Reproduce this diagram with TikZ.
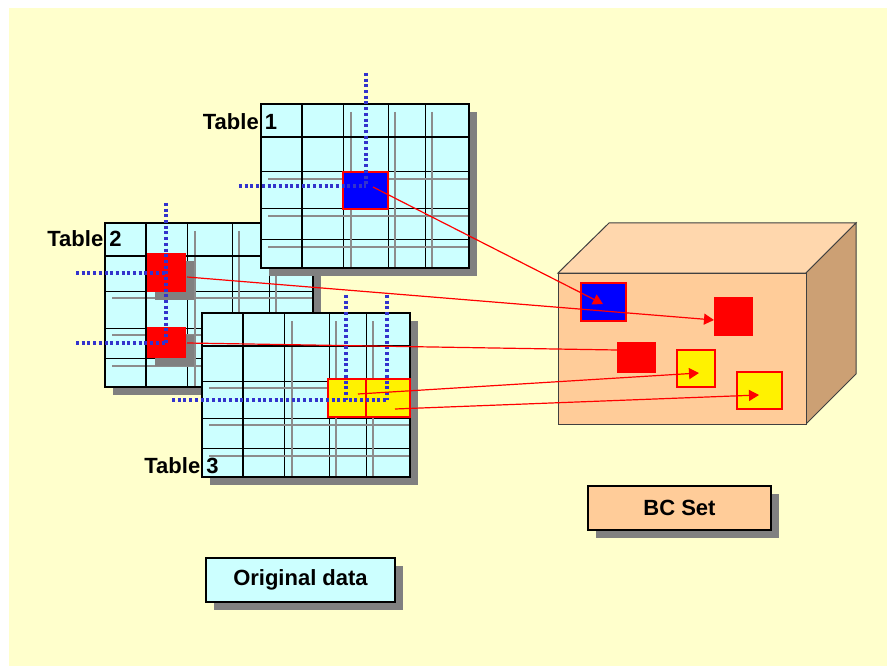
\documentclass[tikz,border=0pt]{standalone}
\usepackage{fontspec}
\setmainfont{Liberation Sans}
\usetikzlibrary{arrows.meta,shadows,positioning}

\definecolor{bgyellow}{HTML}{FFFFCC}
\definecolor{tablecyan}{HTML}{CCFFFF}
\definecolor{shadowgray}{HTML}{808080}
\definecolor{gridgray}{HTML}{8C8C8C}
\definecolor{lookupblue}{HTML}{3333CC}
\definecolor{bcfront}{HTML}{FFCC99}
\definecolor{bctop}{HTML}{FFD7AD}
\definecolor{bcside}{HTML}{CCA074}

\tikzset{
  boxshadow/.style={drop shadow={shadow xshift=8pt,shadow yshift=-8pt,opacity=1,fill=shadowgray}},
  cell/.style={rectangle,inner sep=0pt,outer sep=0pt,draw=red,line width=1.2pt},
  hitcell/.style={rectangle,inner sep=0pt,outer sep=0pt,fill=red,boxshadow},
  bcitem/.style={rectangle,inner sep=0pt,outer sep=0pt},
  tablelabel/.style={inner sep=0pt,font=\fontsize{22}{26}\selectfont\bfseries},
  labelbox/.style={draw=black,line width=1.2pt,inner sep=0pt,minimum height=44pt,
    font=\fontsize{22}{26}\selectfont\bfseries,boxshadow},
  lookup/.style={lookupblue,line width=3.2pt,dash pattern=on 3pt off 2.7pt},
  link/.style={red,line width=1.2pt},
  linktip/.style={link,-{Triangle[length=10pt,width=11pt]}}
}

% one data table, top left corner at #1
\newcommand{\datatable}[1]{%
  \begin{scope}[shift={#1}]
    \fill[shadowgray] (8,8) rectangle (216,172);
    \fill[tablecyan] (0,0) rectangle (208,164);
    \foreach \cx in {82,127,164} \draw[line width=1pt] (\cx,0) -- (\cx,164);
    \foreach \ry in {68,105,135} \draw[line width=1pt] (0,\ry) -- (208,\ry);
    \foreach \gx in {90,134,171} \draw[gridgray,line width=1.1pt] (\gx,8) -- (\gx,164);
    \foreach \gy in {75,112,143} \draw[gridgray,line width=1.1pt] (7,\gy) -- (208,\gy);
    \draw[line width=1.5pt] (41,0) -- (41,164) (0,33) -- (208,33);
    \draw[line width=1.5pt] (0,0) rectangle (208,164);
  \end{scope}}

\begin{document}
\begin{tikzpicture}[x=1pt,y=-1pt]
\useasboundingbox (0,0) rectangle (887,666);
\fill[bgyellow] (9,8) rectangle (887,666);

% Table 2
\datatable{(105,223)}
\node[hitcell,minimum width=39pt,minimum height=39pt] (t2a) at (166.5,272.5) {};
\node[hitcell,minimum width=39pt,minimum height=31pt] (t2b) at (166.5,342.5) {};
\coordinate (t2top) at (166,203);
\coordinate (t2lefta) at (76,273);
\coordinate (t2leftb) at (76,343);
\coordinate (t2hita) at (166,273);
\coordinate (t2hitb) at (166,343);
\draw[lookup] (t2top) -- (t2hitb);
\draw[lookup] (t2lefta) -- (t2hita);
\draw[lookup] (t2leftb) -- (t2hitb);

% Table 1
\datatable{(261,104)}
\node[cell,fill=blue,minimum width=45pt,minimum height=37pt] (t1a) at (365.5,190.5) {};
\coordinate (t1top) at (366,73);
\coordinate (t1left) at (239,186);
\coordinate (t1hit) at (366,186);
\draw[lookup] (t1top) -- (t1hit);
\draw[lookup] (t1left) -- (t1hit);

% Table 3
\datatable{(202,313)}
\node[cell,fill=yellow,minimum width=38pt,minimum height=38pt] (t3a) at (347,398) {};
\node[cell,fill=yellow,minimum width=44pt,minimum height=38pt] (t3b) at (388,398) {};
\coordinate (t3topa) at (346,295);
\coordinate (t3topb) at (387,295);
\coordinate (t3left) at (172,400);
\coordinate (t3hita) at (346,400);
\coordinate (t3hitb) at (387,400);
\draw[lookup] (t3topa) -- (t3hita);
\draw[lookup] (t3topb) -- (t3hitb);
\draw[lookup] (t3left) -- (t3hitb);

\node[tablelabel] (lab1) at (240,122) {Table 1};
\node[tablelabel] (lab2) at (84.5,238.5) {Table 2};
\node[tablelabel] (lab3) at (181.5,466) {Table 3};

% BC set box
\filldraw[fill=bctop,draw=black!75,line width=1pt] (558,273) -- (609,223) -- (856,223) -- (806,273) -- cycle;
\filldraw[fill=bcside,draw=black!75,line width=1pt] (806,273) -- (856,223) -- (856,374) -- (806,424) -- cycle;
\filldraw[fill=bcfront,draw=black!75,line width=1pt] (558,273) rectangle (806,424);

\node[cell,fill=blue,minimum width=45pt,minimum height=38pt] (bc1) at (603.5,302) {};
\node[bcitem,fill=red,minimum width=39pt,minimum height=39pt] (bc2) at (733.5,316.5) {};
\node[bcitem,fill=red,minimum width=39pt,minimum height=31pt] (bc3) at (636.5,357.5) {};
\node[cell,fill=yellow,minimum width=38pt,minimum height=37pt] (bc4) at (696,368.5) {};
\node[cell,fill=yellow,minimum width=45pt,minimum height=37pt] (bc5) at (759.5,390.5) {};

% links
\coordinate (s1) at (373,187);
\coordinate (s2) at (187,277);
\coordinate (s3) at (187,343);
\coordinate (s4) at (358,394);
\coordinate (s5) at (395,409);
\coordinate (e1) at (603,304);
\coordinate (e2) at (714,320);
\coordinate (e3) at (617,350);
\coordinate (e4) at (699,373);
\coordinate (e5) at (759,395);
\draw[linktip] (s1) -- (e1);
\draw[linktip] (s2) -- (e2);
\draw[link] (s3) -- (e3);
\draw[linktip] (s4) -- (e4);
\draw[linktip] (s5) -- (e5);

\node[labelbox,fill=bcfront,minimum width=183pt] (bcset) at (679.5,508) {BC Set};
\node[labelbox,fill=tablecyan,minimum width=189pt] (orig) at (300.5,580) {Original data};
\end{tikzpicture}
\end{document}
